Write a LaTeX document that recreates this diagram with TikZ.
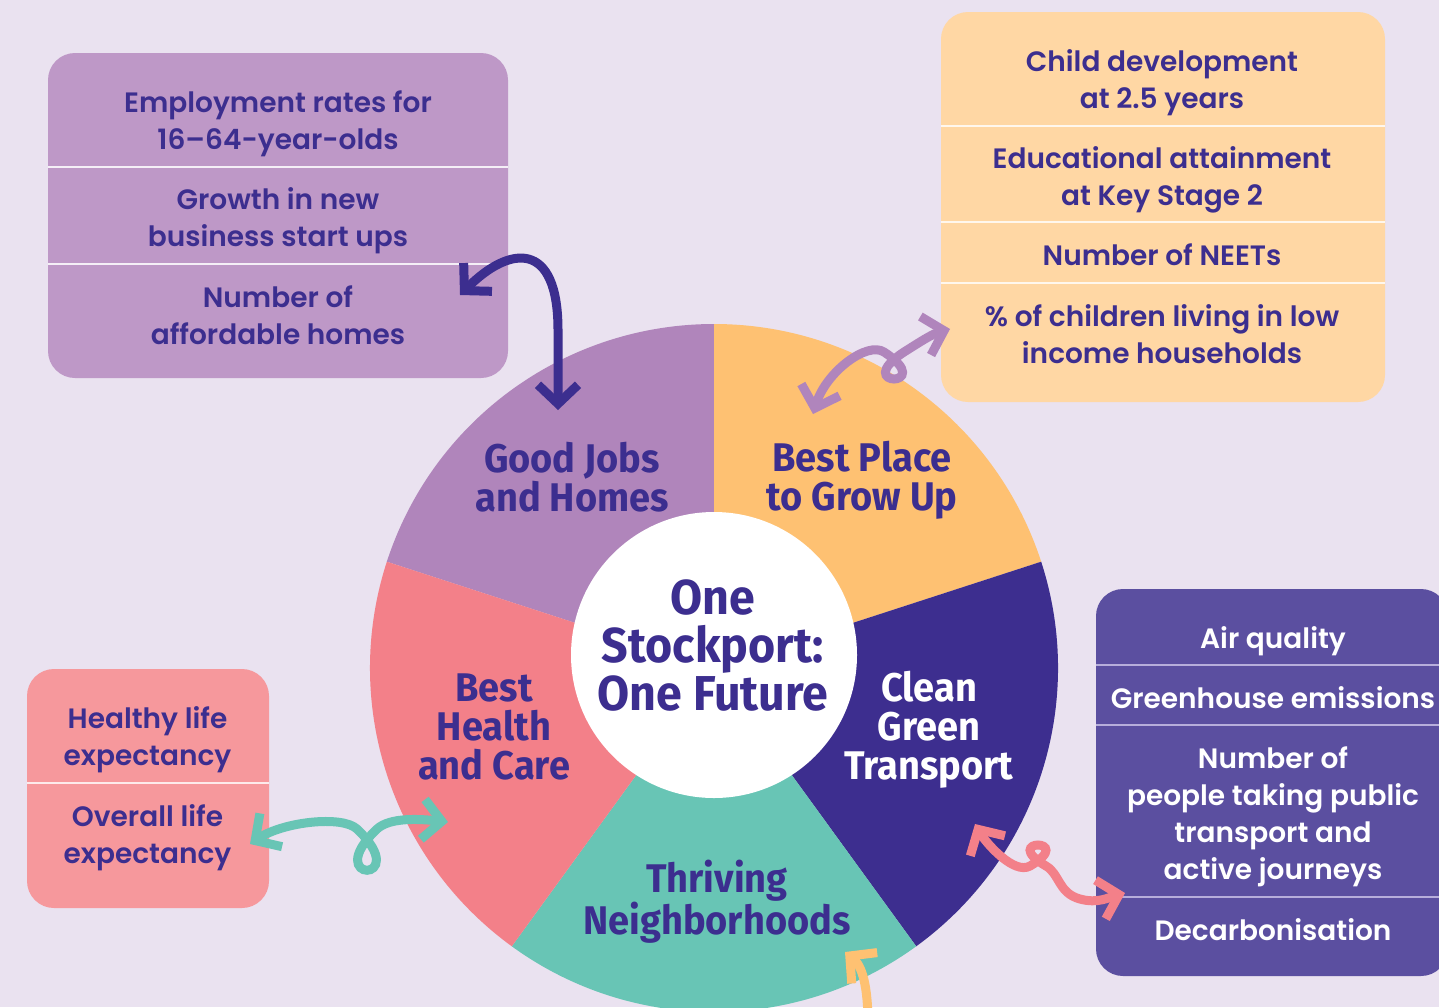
\documentclass[tikz,border=0pt]{standalone}
\usepackage{fontspec}
\usetikzlibrary{arrows.meta}
\newfontfamily\boxfont{Poppins SemiBold}[Ligatures=TeX]
\newfontfamily\segfont{Fira Sans}[FakeStretch=0.95]
\definecolor{bg}{HTML}{EAE2F0}
\definecolor{navy}{HTML}{3C2E8F}
\definecolor{pboxc}{HTML}{BE98C7}
\definecolor{psegc}{HTML}{B085BB}
\definecolor{oboxc}{HTML}{FFD7A4}
\definecolor{osegc}{HTML}{FEC172}
\definecolor{dboxc}{HTML}{5B4FA0}
\definecolor{dsegc}{HTML}{3D2E8F}
\definecolor{kboxc}{HTML}{F6989C}
\definecolor{ksegc}{HTML}{F38089}
\definecolor{tealc}{HTML}{68C5B5}
\definecolor{lavc}{HTML}{B085BC}
\definecolor{dsep}{HTML}{B7AEDB}
\tikzset{
  infobox/.style={rectangle, rounded corners=27pt, inner sep=0pt, outer sep=0pt},
  boxtext/.style={font=\boxfont\fontsize{28}{37}\selectfont, text=navy, align=center, inner sep=0pt},
  seglab/.style={font=\segfont\bfseries\fontsize{40}{39}\selectfont, text=navy, align=center, inner sep=0pt},
  sepline/.style={line width=1.6pt},
  swirl/.style={line width=9pt, line cap=butt,
    {Straight Barb[length=19pt,width=40pt]}-{Straight Barb[length=19pt,width=40pt]}},
  oneway/.style={line width=9pt, line cap=butt, -{Straight Barb[length=19pt,width=40pt]}},
}
\begin{document}
\begin{tikzpicture}[x=1pt,y=-1pt]
\useasboundingbox (0,0) rectangle (1439,1007);
\clip (0,0) rectangle (1439,1007);
\fill[bg] (0,0) rectangle (1439,1007);

% ---------- wheel ----------
\fill[psegc] (714,668) -- ++(-90:344) arc[start angle=-90, end angle=-162, radius=344] -- cycle;
\fill[osegc] (714,668) -- ++(-90:344) arc[start angle=-90, end angle=-18, radius=344] -- cycle;
\fill[dsegc] (714,668) -- ++(-18:344) arc[start angle=-18, end angle=54, radius=344] -- cycle;
\fill[tealc] (714,668) -- ++(54:344) arc[start angle=54, end angle=126, radius=344] -- cycle;
\fill[ksegc] (714,668) -- ++(126:344) arc[start angle=126, end angle=198, radius=344] -- cycle;
\fill[white] (714,655) circle[radius=143];

\node[seglab] (gj) at (572,477) {Good Jobs\\and Homes};
\node[seglab] (bp) at (862,480) {Best Place\\to Grow Up};
\node[seglab, font=\segfont\bfseries\fontsize{49}{48}\selectfont] (core) at (713,646) {One\\Stockport:\\One Future};
\node[seglab, text=white] (cg) at (929,730) {Clean\\Green\\Transport};
\node[seglab] (bh) at (494,727) {Best\\Health\\and Care};
\node[seglab] (tn) at (717,902) {Thriving\\Neighborhoods};

% ---------- purple box ----------
\node[infobox, fill=pboxc, minimum width=460pt, minimum height=325pt] (pbox) at (278,215.5) {};
\draw[sepline, white!85!pboxc] (48,167) -- (508,167);
\draw[sepline, white!85!pboxc] (48,264) -- (508,264);
\node[boxtext] (p1) at (278,124) {Employment rates for\\16–64-year-olds};
\node[boxtext] (p2) at (278,220.5) {Growth in new\\business start ups};
\node[boxtext] (p3) at (278,315.5) {Number of\\affordable homes};

% ---------- orange box ----------
\node[infobox, fill=oboxc, minimum width=444pt, minimum height=390pt] (obox) at (1163,207) {};
\draw[sepline, white!80!oboxc] (941,126) -- (1385,126);
\draw[sepline, white!80!oboxc] (941,222) -- (1385,222);
\draw[sepline, white!80!oboxc] (941,283) -- (1385,283);
\node[boxtext] (o1) at (1162,82.5) {Child development\\at 2.5 years};
\node[boxtext] (o2) at (1162,180) {Educational attainment\\at Key Stage 2};
\node[boxtext] (o3) at (1162,255) {Number of NEETs};
\node[boxtext] (o4) at (1162,334) {\% of children living in low\\income households};

% ---------- dark box ----------
\node[infobox, fill=dboxc, minimum width=352pt, minimum height=387pt] (dbox) at (1272,782.5) {};
\draw[sepline, dsep] (1096,665) -- (1439,665);
\draw[sepline, dsep] (1096,725) -- (1439,725);
\draw[sepline, dsep] (1096,897) -- (1439,897);
\node[boxtext, text=white] (d1) at (1273,641) {Air quality};
\node[boxtext, text=white] (d2) at (1273,697.5) {Greenhouse emissions};
\node[boxtext, text=white] (d3) at (1273,816.5) {Number of\\people taking public\\transport and\\active journeys};
\node[boxtext, text=white] (d4) at (1273,929.5) {Decarbonisation};

% ---------- pink box ----------
\node[infobox, fill=kboxc, minimum width=242pt, minimum height=239pt] (kbox) at (148,788.5) {};
\draw[sepline, white!80!kboxc] (27,783) -- (269,783);
\node[boxtext] (k1) at (147.5,740) {Healthy life\\expectancy};
\node[boxtext] (k2) at (147.5,838) {Overall life\\expectancy};

% ---------- connectors ----------
\coordinate (n1a) at (460,295);
\coordinate (n1b) at (558,410);
\draw[swirl, navy] (n1a) .. controls (510,245) and (558,240) .. (558,330) -- (n1b);

\coordinate (l2a) at (813,414);
\coordinate (l2b) at (950,329);
\draw[swirl, lavc] (l2a) .. controls (826,372) and (867,341) .. (884,352)
  .. controls (939,388) and (849,388) .. (904,352)
  .. controls (920,342) and (932,334) .. (l2b);

\coordinate (t3a) at (250,844);
\coordinate (t3b) at (448,822);
\draw[swirl, tealc] (t3a) .. controls (283,822) and (342,815) .. (357,829)
  .. controls (415,884) and (319,884) .. (377,829)
  .. controls (390,817) and (420,819) .. (t3b);

\coordinate (k4a) at (975,824);
\coordinate (k4b) at (1125,893);
\draw[swirl, ksegc] (k4a) .. controls (986,843) and (1014,875) .. (1030,866)
  .. controls (1078,838) and (998,838) .. (1046,866)
  .. controls (1060,874) and (1058,893) .. (1080,899)
  .. controls (1098,904) and (1110,897) .. (k4b);

\coordinate (o5s) at (868,1025);
\coordinate (o5) at (845,952);
\draw[oneway, osegc] (o5s) .. controls (868,985) and (862,966) .. (o5);
\end{tikzpicture}
\end{document}
